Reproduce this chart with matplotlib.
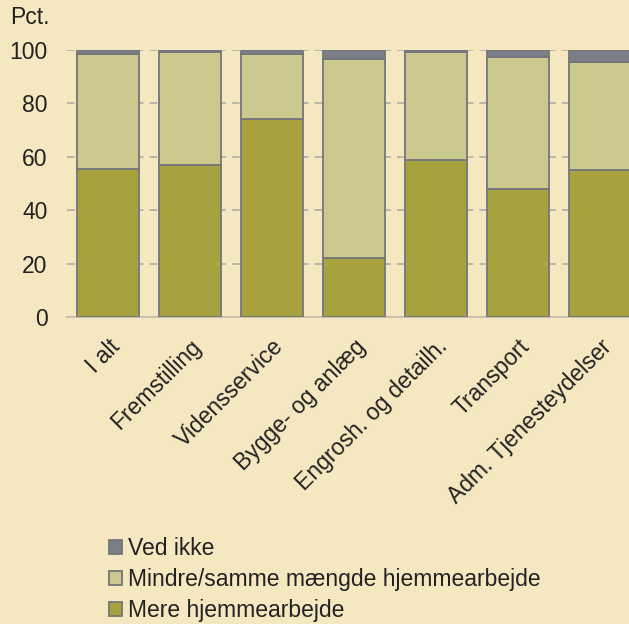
import matplotlib
matplotlib.use("Agg")
import matplotlib.pyplot as plt
import numpy as np

categories = ["I alt", "Fremstilling", "Vidensservice", "Bygge- og anlæg",
              "Engrosh. og detailh.", "Transport", "Adm. Tjenesteydelser"]
mere = [55.5, 57.0, 74.0, 22.1, 58.8, 48.1, 55.1]
mindre = [42.9, 42.1, 24.4, 74.7, 40.5, 49.3, 40.5]
ved_ikke = [1.6, 0.9, 1.6, 3.2, 0.7, 2.6, 4.4]
yticks = [0, 20, 40, 60, 80, 100]

bg = "#F5E7C0"
c_mere = "#A8A23E"
c_mindre = "#CCC98E"
c_ved = "#7B7E85"
edge = "#75767A"
fs = 16.5

plt.rcParams['font.family'] = ['Liberation Sans', 'DejaVu Sans']

fig = plt.figure(figsize=(6.29, 6.24), dpi=100, facecolor=bg)
ax = fig.add_axes([67/629, 1-317/624, (641-67)/629, (317-50)/624])
ax.set_facecolor(bg)

x = np.arange(len(categories))
w = 0.76
mere = np.array(mere); mindre = np.array(mindre); ved_ikke = np.array(ved_ikke)
b1 = ax.bar(x, mere, w, color=c_mere, edgecolor=edge, linewidth=1.3, zorder=3, label="Mere hjemmearbejde")
b2 = ax.bar(x, mindre, w, bottom=mere, color=c_mindre, edgecolor=edge, linewidth=1.3, zorder=3,
            label="Mindre/samme mængde hjemmearbejde")
b3 = ax.bar(x, ved_ikke, w, bottom=mere+mindre, color=c_ved, edgecolor=edge, linewidth=1.3, zorder=3,
            label="Ved ikke")

ax.set_xlim(-0.5, 6.5)
ax.set_ylim(0, 100)
ax.set_yticks(yticks)
ax.yaxis.grid(True, linestyle=(0, (5, 4)), color="#A9A8A2", linewidth=1.1, zorder=0)
ax.set_axisbelow(True)
for s in ax.spines.values():
    s.set_visible(False)
ax.axhline(0, color="#C9C3AE", linewidth=1.5, zorder=2, clip_on=False)
ax.tick_params(axis='both', length=0, labelsize=fs, colors="#222222")
ax.tick_params(axis='y', pad=14)
ax.set_xticks(x)
ax.set_xticklabels(categories, rotation=45, ha='right', rotation_mode='anchor', fontsize=fs)
ax.tick_params(axis='x', pad=13)

fig.text(10/629, 1-18/624, "Pct.", fontsize=fs, color="#222222", va='center', ha='left')

handles = [b3, b2, b1]
leg = fig.legend(handles, [h.get_label() for h in handles], loc='upper left',
                 bbox_to_anchor=(109/629, 1-537/624), frameon=False, fontsize=fs,
                 handlelength=0.55, handleheight=0.55, handletextpad=0.3, labelspacing=0.36,
                 borderaxespad=0, borderpad=0)
for t in leg.get_texts():
    t.set_color("#222222")

fig.savefig("out.png", dpi=100, facecolor=bg)
